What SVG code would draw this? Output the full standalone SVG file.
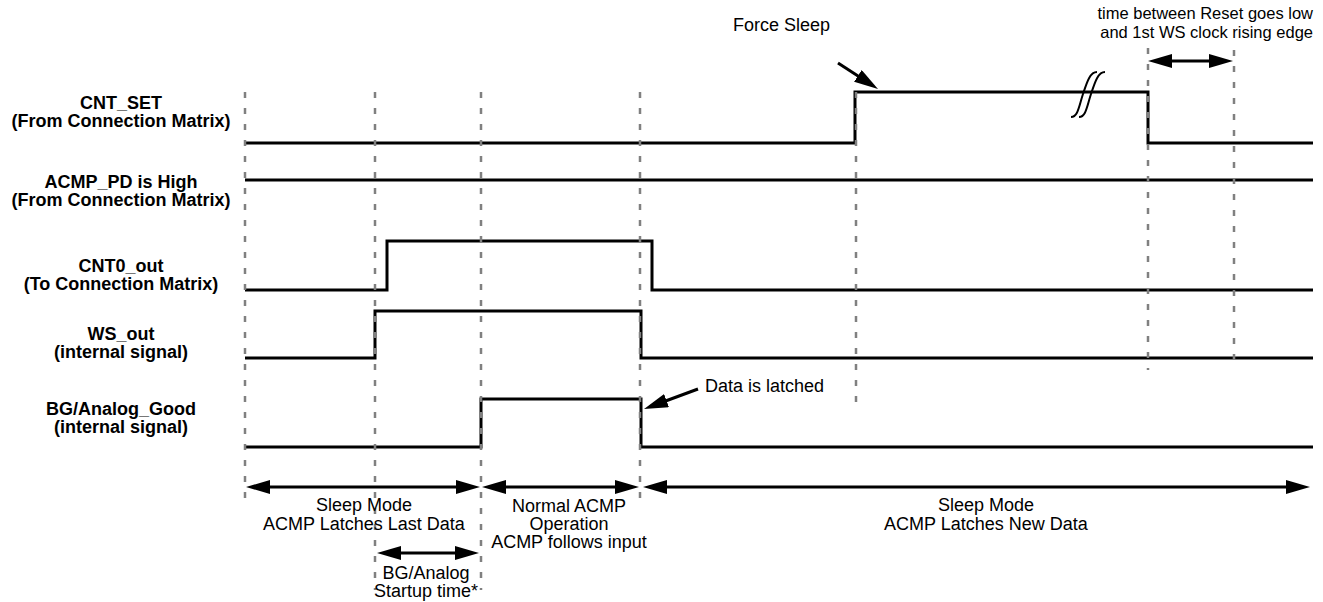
<svg xmlns="http://www.w3.org/2000/svg" width="1323" height="602" viewBox="0 0 1323 602">
<style>
.sig{fill:none;stroke:#000;stroke-width:3}
.grid{fill:none;stroke:#808080;stroke-width:2.5;stroke-dasharray:6 10}
.lbl{font-family:"Liberation Sans",Arial,sans-serif;font-weight:bold;font-size:18px;fill:#000;text-anchor:middle}
.txt{font-family:"Liberation Sans",Arial,sans-serif;font-size:18px;fill:#000}
.mid{text-anchor:middle}
.small{font-size:16.5px;text-anchor:end}
.arr{fill:none;stroke:#000;stroke-width:3;marker-start:url(#ah);marker-end:url(#ah)}
.arr1{fill:none;stroke:#000;stroke-width:3;marker-end:url(#ah)}
.brk{fill:none;stroke:#000;stroke-width:2}
</style>
<defs>
<marker id="ah" viewBox="0 0 24 14" refX="14" refY="7" markerWidth="24" markerHeight="14" markerUnits="userSpaceOnUse" orient="auto-start-reverse">
<path d="M0,0 L24,7 L0,14 z" fill="#000"/>
</marker>
</defs>
<rect width="1323" height="602" fill="#fff"/>

<g id="sig-cnt-set">
<text class="lbl" x="121" y="109">CNT_SET</text>
<text class="lbl" x="121" y="127">(From Connection Matrix)</text>
<polyline class="sig" points="245,143 855,143 855,92 1148,92 1148,143 1313,143"/>
<path class="brk" d="M1071,117 C1078,117 1079,106 1083,94 S1090,72 1097,72"/>
<path class="brk" d="M1079,117 C1086,117 1087,106 1091,94 S1098,72 1105,72"/>
</g>

<g id="sig-acmp-pd">
<text class="lbl" x="121" y="188">ACMP_PD is High</text>
<text class="lbl" x="121" y="206">(From Connection Matrix)</text>
<polyline class="sig" points="245,180 1313,180"/>
</g>

<g id="sig-cnt0-out">
<text class="lbl" x="121" y="272">CNT0_out</text>
<text class="lbl" x="121" y="290">(To Connection Matrix)</text>
<polyline class="sig" points="245,290 387,290 387,241 652,241 652,290 1313,290"/>
</g>

<g id="sig-ws-out">
<text class="lbl" x="121" y="340">WS_out</text>
<text class="lbl" x="121" y="358">(internal signal)</text>
<polyline class="sig" points="245,358 375,358 375,311 641,311 641,358 1313,358"/>
</g>

<g id="sig-bg-good">
<text class="lbl" x="121" y="415">BG/Analog_Good</text>
<text class="lbl" x="121" y="433">(internal signal)</text>
<polyline class="sig" points="245,447 481,447 481,399 641,399 641,447 1313,447"/>
</g>

<g id="gridlines">
<line class="grid" x1="245" y1="92" x2="245" y2="503"/>
<line class="grid" x1="375" y1="92" x2="375" y2="590"/>
<line class="grid" x1="481" y1="92" x2="481" y2="590"/>
<line class="grid" x1="640" y1="92" x2="640" y2="505"/>
<line class="grid" x1="856" y1="92" x2="856" y2="410"/>
<line class="grid" x1="1148" y1="48" x2="1148" y2="370"/>
<line class="grid" x1="1234" y1="50" x2="1234" y2="370"/>
</g>

<g id="connectors">
<line class="arr" x1="256" y1="487" x2="470" y2="487"/>
<line class="arr" x1="492" y1="487" x2="629" y2="487"/>
<line class="arr" x1="653" y1="487" x2="1300" y2="487"/>
<line class="arr" x1="387" y1="553" x2="469" y2="553"/>
<line class="arr" x1="1158" y1="61" x2="1223" y2="61"/>
<line class="arr1" x1="698" y1="389" x2="653.4" y2="405.5"/>
<line class="arr1" x1="838" y1="63" x2="869.6" y2="83.6"/>
</g>

<g id="annotations">
<text class="txt" x="733" y="31">Force Sleep</text>
<text class="txt small" x="1313" y="19">time between Reset goes low</text>
<text class="txt small" x="1313" y="38">and 1st WS clock rising edge</text>
<text class="txt" x="705" y="392">Data is latched</text>
<text class="txt mid" x="364" y="511">Sleep Mode</text>
<text class="txt mid" x="364" y="530">ACMP Latches Last Data</text>
<text class="txt mid" x="569" y="512">Normal ACMP</text>
<text class="txt mid" x="569" y="530">Operation</text>
<text class="txt mid" x="569" y="548">ACMP follows input</text>
<text class="txt mid" x="426" y="579">BG/Analog</text>
<text class="txt mid" x="426" y="597">Startup time*</text>
<text class="txt mid" x="986" y="511">Sleep Mode</text>
<text class="txt mid" x="986" y="530">ACMP Latches New Data</text>
</g>
</svg>
